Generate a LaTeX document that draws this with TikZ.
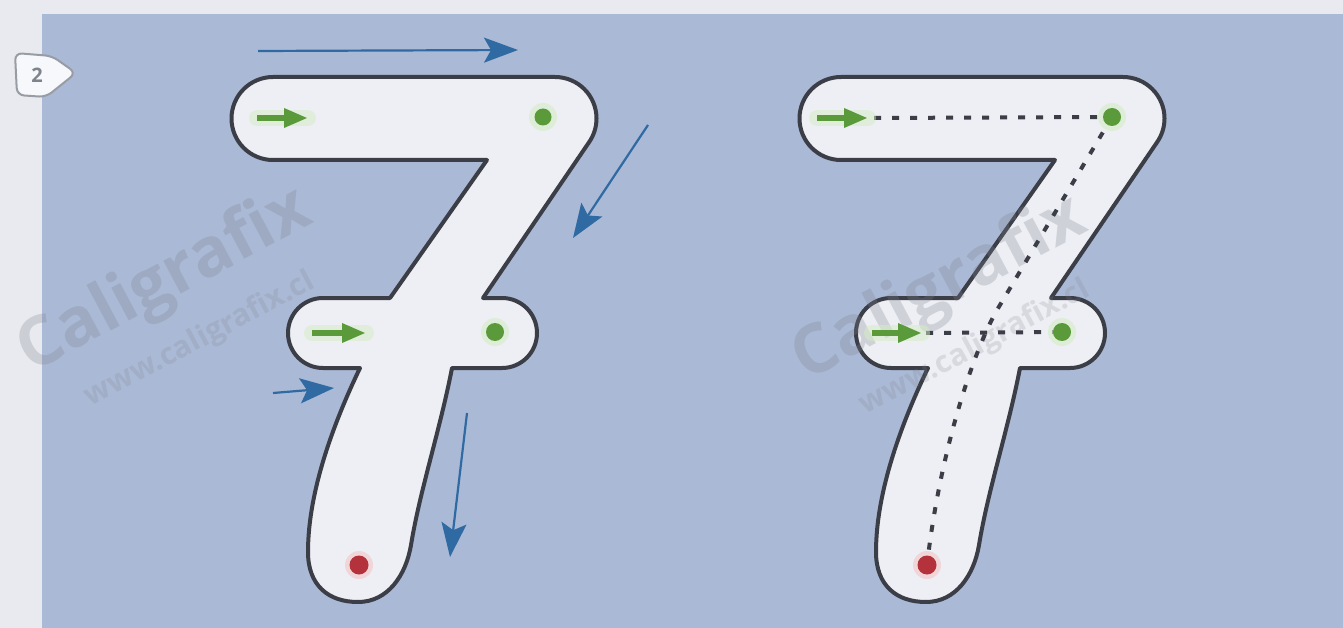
\documentclass[tikz,border=0pt]{standalone}
\usepackage{fontspec}
\setsansfont{Open Sans}
\usetikzlibrary{arrows.meta}
\definecolor{paper}{HTML}{E9EAF0}
\definecolor{panel}{HTML}{AAB9D5}
\definecolor{rimgray}{HTML}{3B3E47}
\definecolor{sevenfill}{HTML}{EEEFF4}
\definecolor{startgreen}{HTML}{5B9A3B}
\definecolor{glowgreen}{HTML}{D4EDC4}
\definecolor{endred}{HTML}{B3323B}
\definecolor{guideblue}{HTML}{2F6AA3}
\definecolor{markgray}{HTML}{7E838E}

% outline of one seven (pixel coordinates, y downwards)
\newcommand{\sevenrim}{(273,77) -- (555,77) arc[start angle=-90,end angle=35,radius=41.5]
  -- (483,298) -- (502,298) arc[start angle=-90,end angle=90,radius=35]
  -- (452,368) .. controls (440,430) and (420,490) .. (411,545)
  .. controls (406,575) and (388,602) .. (358,602)
  .. controls (328,602) and (308,585) .. (308,552)
  .. controls (308,490) and (335,420) .. (360,368)
  -- (323,368) arc[start angle=90,end angle=270,radius=35]
  -- (390,298) -- (487,160) -- (273,160) arc[start angle=90,end angle=270,radius=41.5] -- cycle}

\begin{document}
\begin{tikzpicture}[x=1pt,y=-1pt,
    line cap=butt, line join=round,
    every node/.style={inner sep=0pt,outer sep=0pt},
    rim/.style={draw=rimgray,line width=4pt,fill=sevenfill},
    greenarrow/.style={startgreen,line width=6pt,-{Triangle[length=24pt,width=18pt]}},
    greenglow/.style={glowgreen,line width=16pt,line cap=round,opacity=0.5},
    bluearrow/.style={guideblue,line width=2.2pt,-{Stealth[length=34pt,width=25pt,inset=7pt]}},
    trace/.style={rimgray,line width=4pt,dash pattern=on 7pt off 11pt},
    wmark/.style={font=\sffamily\bfseries\fontsize{68}{72}\selectfont,text=markgray,opacity=0.27},
    wmsmall/.style={font=\sffamily\bfseries\fontsize{30}{34}\selectfont,text=markgray,opacity=0.2}]
  \useasboundingbox (0,0) rectangle (1343,628);
  % ---- background ----
  \fill[paper] (0,0) rectangle (1343,628);
  \fill[panel] (42,14) rectangle (1343,628);
  % ---- badge ----
  \draw[markgray!80,line width=2pt,fill=white!90!panel,rounded corners=7pt]
    (15,53) -- (52,56) -- (76,73) -- (46,97) -- (17,95) -- cycle;
  \node[font=\sffamily\bfseries\fontsize{20}{22}\selectfont,text=markgray] (badge) at (37,75) {2};
  % ---- the two sevens ----
  \foreach \dx in {0,568}{
    \begin{scope}[xshift=\dx pt]
      \draw[rim] \sevenrim;
    \end{scope}
  }
  % ---- watermark ----
  \node[wmark,rotate=28] (wmL) at (165,282) {Caligrafix};
  \node[wmsmall,rotate=28] (wmLs) at (200,340) {www.caligrafix.cl};
  \node[wmark,rotate=28] (wmR) at (940,290) {Caligrafix};
  \node[wmsmall,rotate=28] (wmRs) at (975,348) {www.caligrafix.cl};
  % ---- left seven: start arrows, dots ----
  \coordinate (L1s) at (257,118);  \coordinate (L1e) at (308,118);
  \coordinate (L2s) at (312,333);  \coordinate (L2e) at (366,333);
  \draw[greenglow] (L1s) -- (L1e);
  \draw[greenglow] (L2s) -- (L2e);
  \draw[greenarrow] (L1s) -- (L1e);
  \draw[greenarrow] (L2s) -- (L2e);
  \fill[glowgreen,opacity=0.6] (543,117) circle (14);
  \fill[glowgreen,opacity=0.6] (495,332) circle (14);
  \fill[startgreen] (543,117) circle (8.5);
  \fill[startgreen] (495,332) circle (9);
  \fill[endred!20] (359,565) circle (14);
  \fill[endred] (359,565) circle (9.5);
  % ---- left seven: blue guide arrows ----
  \coordinate (G1s) at (258,51);   \coordinate (G1e) at (518,50);
  \coordinate (G2s) at (648,125);  \coordinate (G2e) at (573,238);
  \coordinate (G3s) at (273,393);  \coordinate (G3e) at (334,388);
  \coordinate (G4s) at (467,413);  \coordinate (G4e) at (450,557);
  \draw[bluearrow] (G1s) -- (G1e);
  \draw[bluearrow] (G2s) -- (G2e);
  \draw[bluearrow] (G3s) -- (G3e);
  \draw[bluearrow] (G4s) -- (G4e);
  % ---- right seven: dotted tracing lines ----
  \coordinate (R1s) at (817,118);  \coordinate (R1e) at (868,118);
  \coordinate (R2s) at (872,333);  \coordinate (R2e) at (922,333);
  \coordinate (Rtop) at (1112,117);
  \coordinate (Rmid) at (1062,332);
  \coordinate (Rend) at (927,565);
  \draw[trace] (874,118) -- (Rtop);
  \draw[trace] (926,333) -- (Rmid);
  \draw[trace] (Rtop) -- (1000,305) .. controls (975,345) and (940,450) .. (Rend);
  \draw[greenglow] (R1s) -- (R1e);
  \draw[greenglow] (R2s) -- (R2e);
  \draw[greenarrow] (R1s) -- (R1e);
  \draw[greenarrow] (R2s) -- (R2e);
  \fill[glowgreen,opacity=0.6] (Rtop) circle (14);
  \fill[glowgreen,opacity=0.6] (Rmid) circle (14);
  \fill[startgreen] (Rtop) circle (9);
  \fill[startgreen] (Rmid) circle (9);
  \fill[endred!20] (Rend) circle (14);
  \fill[endred] (Rend) circle (9.5);
\end{tikzpicture}
\end{document}
